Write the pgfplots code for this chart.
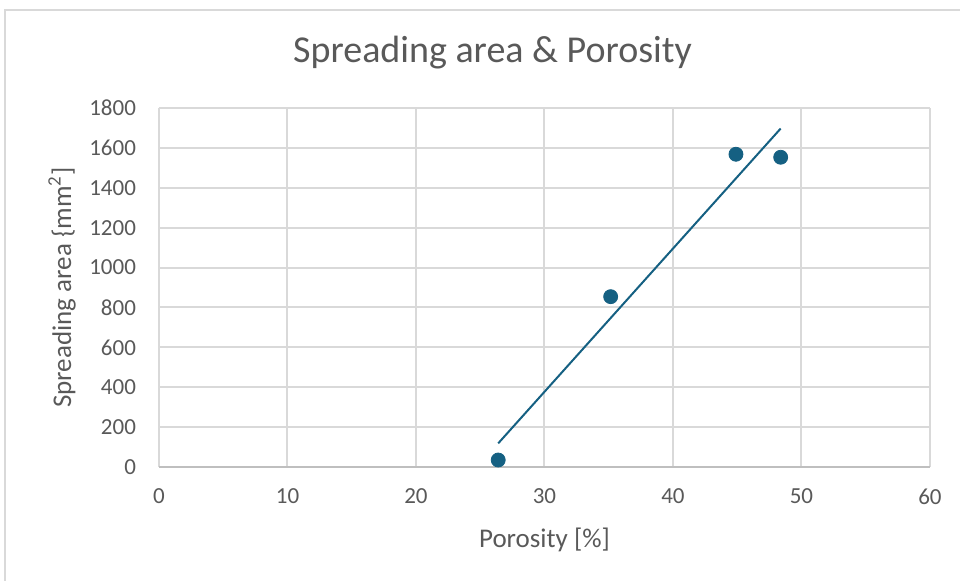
\documentclass[border=0pt]{standalone}
\usepackage{pgfplots}
\pgfplotsset{compat=1.18}
\usepackage{fontspec}
\setmainfont{Carlito}
\definecolor{txt}{RGB}{89,89,89}
\definecolor{grd}{RGB}{217,217,217}
\definecolor{axl}{RGB}{191,191,191}
\definecolor{ser}{RGB}{21,96,130}
\begin{document}
\begin{tikzpicture}
\useasboundingbox (0,0) rectangle (480pt,290.5pt);
\draw[grd, line width=1pt] (2.5pt,-10pt) -- (2.5pt,285.5pt) -- (500pt,285.5pt);
\node[txt, font=\fontsize{19}{22}\selectfont, anchor=base] at (246.25pt,259pt) {Spreading area \& Porosity};
\begin{axis}[
  at={(79.5pt,57pt)}, anchor=south west,
  scale only axis, width=385.5pt, height=179.5pt,
  xmin=0, xmax=60, ymin=0, ymax=1800,
  xtick={0,10,...,60}, ytick={0,200,...,1800},
  grid=major, major grid style={grd, line width=1pt},
  separate axis lines,
  axis x line*=bottom, axis y line*=left,
  x axis line style={axl, line width=1pt, -},
  y axis line style={draw=none, -},
  major tick length=0pt,
  tick label style={txt, font=\fontsize{11.5}{13}\selectfont},
  /pgf/number format/assume math mode=true,
  /pgf/number format/1000 sep={},
  yticklabel style={xshift=-8pt},
  xticklabel style={yshift=-7.5pt},
  xlabel={Porosity [\%]},
  ylabel={Spreading area \{mm\textsuperscript{2}]},
  label style={txt, font=\fontsize{13.5}{16}\selectfont},
  xlabel style={at={(axis description cs:0.5,-0.2033)}, anchor=center},
  ylabel style={at={(axis description cs:-0.1258,0.5)}, anchor=center},
]
\addplot[ser, line width=1pt] coordinates {(26.4,118.6) (48.38,1697)};
\addplot[only marks, mark=*, mark size=3.5pt, mark options={fill=ser, draw=ser}] coordinates {
(26.40,35) (35.15,854) (44.9,1568) (48.38,1553)};
\end{axis}
\end{tikzpicture}
\end{document}
